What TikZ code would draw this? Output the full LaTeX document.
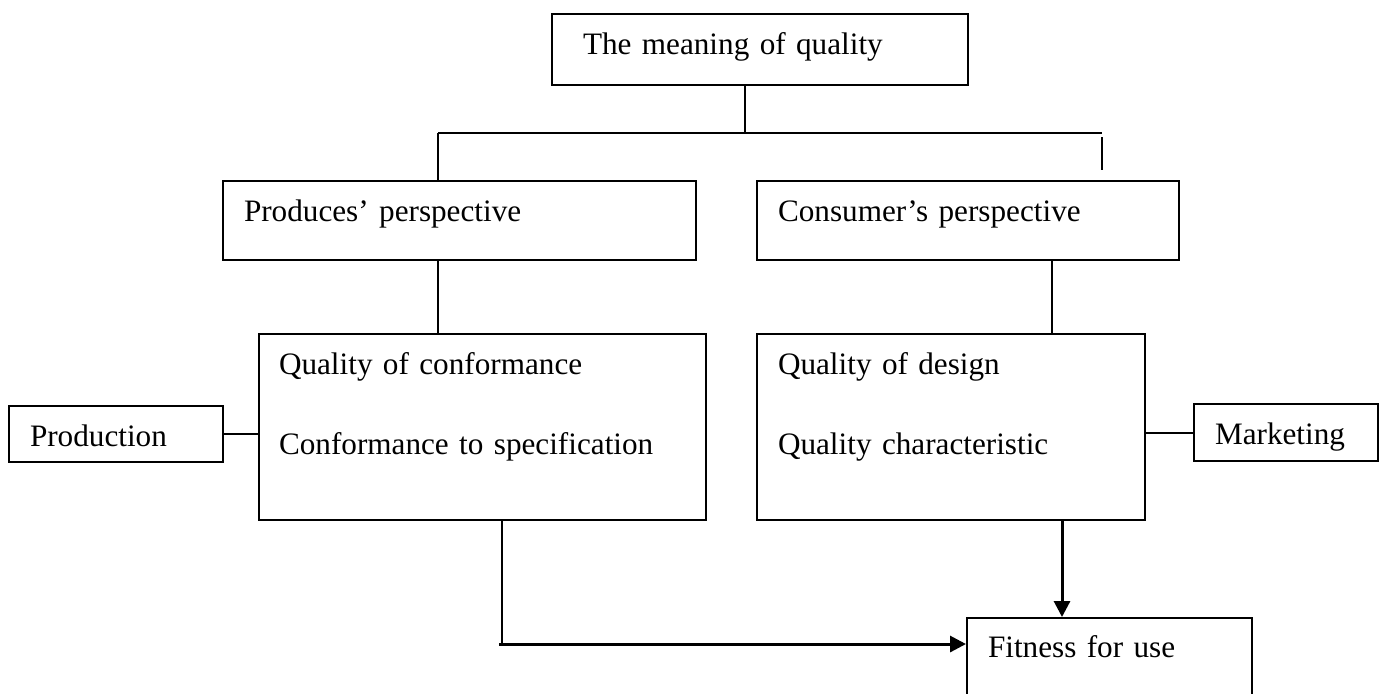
\documentclass[tikz,border=0pt]{standalone}
\usepackage{fontspec}
\setmainfont{Liberation Serif}
\usetikzlibrary{arrows.meta}

\tikzset{
	box/.style={draw, line width=1pt, anchor=north west, align=left, inner ysep=0pt, text height=20pt, font=\fontsize{15.6}{40}\selectfont},
	flow/.style={line width=1.5pt, -{Triangle[length=8pt,width=8pt]}}
}

\begin{document}
\begin{tikzpicture}[x=0.5pt, y=-0.5pt, line width=1pt]
		\fill[white] (0,0) rectangle (1384,693);
		\useasboundingbox (0,0) rectangle (1384,693);

		\draw (551,13) node [box, text width=177pt, inner xsep=15.5pt, text depth=15.5pt] (quality) {The meaning of quality};
		\draw (222,180) node [box, text width=215.5pt, inner xsep=10.5pt, text depth=19.5pt] (producer) {Produces’ perspective};
		\draw (756,180) node [box, text width=190pt, inner xsep=10.5pt, text depth=19.5pt] (consumer) {Consumer’s perspective};
		\draw (258,333) node [box, text width=203.5pt, inner xsep=10pt, text depth=73pt] (conformance) {Quality of conformance\\Conformance to specification};
		\draw (756,333) node [box, text width=173pt, inner xsep=10.5pt, text depth=73pt] (design) {Quality of design\\Quality characteristic};
		\draw (8,405) node [box, text width=86pt, inner xsep=10.5pt, text depth=8pt] (production) {Production};
		\draw (1193,403) node [box, text width=71pt, inner xsep=10.5pt, text depth=8.5pt] (marketing) {Marketing};
		\draw (966,617) node [box, text width=121.5pt, inner xsep=10.5pt, text height=19.5pt, text depth=32pt] (fitness) {Fitness for use};

		\coordinate (split) at (745,133);
		\coordinate (lbranch) at (438,133);
		\coordinate (rbranch) at (1102,133);
		\coordinate (rtick) at (1102,137);
		\coordinate (cdrop) at (1052,0);
		\coordinate (cbend) at (502,644);
		\coordinate (fdrop) at (1062,0);

		\draw
			(quality.south -| split) -- (split)
			(lbranch) -- (rbranch)
			(lbranch) -- (lbranch |- producer.north)
			(rtick) -- ++(0,33)
			(lbranch |- producer.south) -- (lbranch |- conformance.north)
			(consumer.south -| cdrop) -- (design.north -| cdrop)
			(production.east) -- (production.east -| conformance.west)
			(marketing.west -| design.east) -- (marketing.west)
			(conformance.south -| cbend) -- (cbend)
		;
		\draw [flow] ([xshift=-1.5pt]cbend) -- (cbend -| fitness.west);
		\draw [flow] (design.south -| fdrop) -- (fitness.north -| fdrop);
	\end{tikzpicture}
\end{document}
